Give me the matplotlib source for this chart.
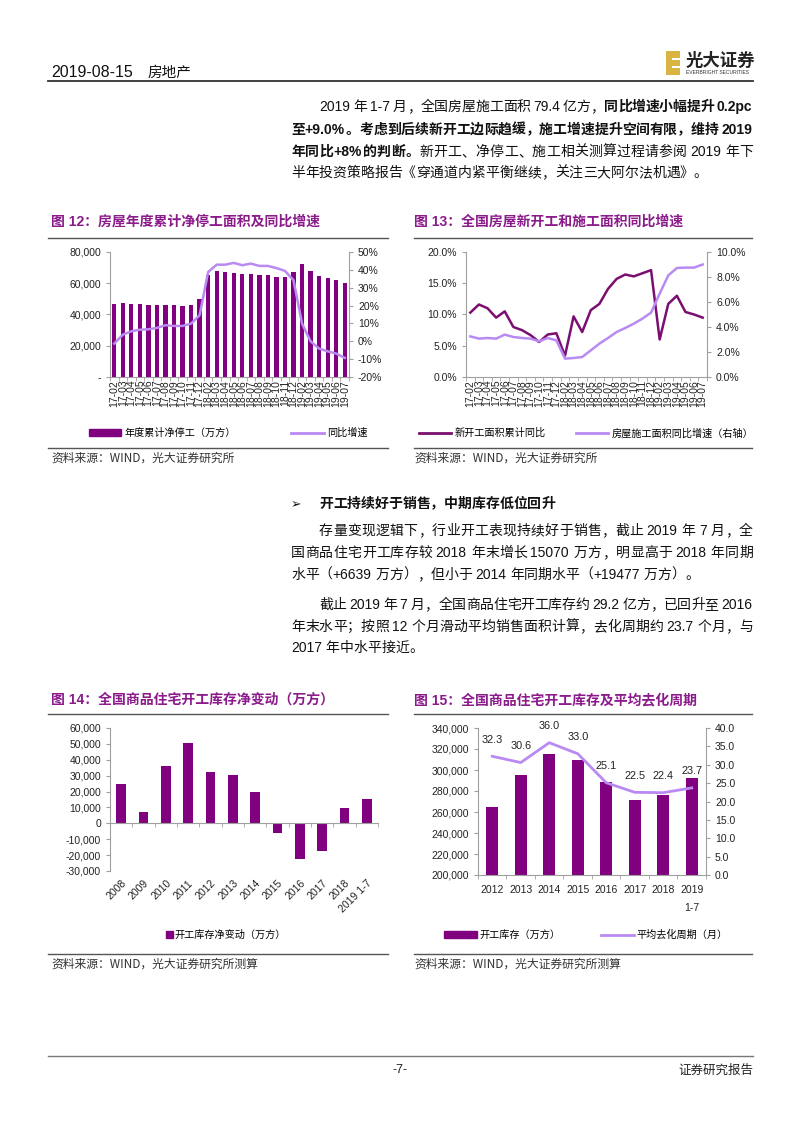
import re
import numpy as np
import matplotlib
matplotlib.use('Agg')
import matplotlib.pyplot as plt
from matplotlib.lines import Line2D
from matplotlib.patches import Patch, Rectangle
from matplotlib.font_manager import FontProperties

plt.rcParams['font.family'] = ['Liberation Sans', 'Noto Sans CJK SC', 'DejaVu Sans']
plt.rcParams['axes.unicode_minus'] = False

# ---------------- data ----------------
months = ['17-02', '17-03', '17-04', '17-05', '17-06', '17-07', '17-08', '17-09', '17-10', '17-11', '17-12',
          '18-02', '18-03', '18-04', '18-05', '18-06', '18-07', '18-08', '18-09', '18-10', '18-11', '18-12',
          '19-02', '19-03', '19-04', '19-05', '19-06', '19-07']
# fig 12: annual cumulative net stopped area (10k m2) and yoy (%)
net_stop = [46900, 47300, 47000, 46500, 46300, 45900, 46100, 45900, 45600, 46300, 49700,
            65500, 67800, 67200, 66800, 65900, 65900, 65300, 65300, 64200, 64000, 67000,
            72500, 67800, 64600, 63100, 62100, 60200]
net_stop_yoy = [-1.3, 3.7, 5.6, 6.5, 6.7, 7.5, 9.0, 8.6, 8.6, 9.9, 14.6,
                38.8, 42.9, 42.9, 43.9, 42.6, 43.5, 42.2, 42.2, 41.0, 39.4, 34.2,
                9.9, 0.0, -4.1, -5.6, -6.9, -9.3]
# fig 13: new starts cumulative yoy (%), under construction yoy (%, right axis)
new_start_yoy = [10.3, 11.6, 11.0, 9.5, 10.5, 8.0, 7.5, 6.7, 5.6, 6.8, 7.0,
                 3.4, 9.7, 7.2, 10.7, 11.7, 14.1, 15.7, 16.4, 16.1, 16.6, 17.1,
                 6.0, 11.7, 13.0, 10.4, 10.0, 9.5]
constr_yoy = [3.25, 3.07, 3.12, 3.07, 3.39, 3.20, 3.12, 3.07, 2.85, 3.12, 2.93,
              1.47, 1.52, 1.60, 2.13, 2.67, 3.12, 3.60, 3.92, 4.27, 4.67, 5.15,
              6.67, 8.13, 8.72, 8.75, 8.75, 9.00]
# fig 14: net change of started-unsold inventory (10k m2)
years14 = ['2008', '2009', '2010', '2011', '2012', '2013', '2014', '2015', '2016', '2017', '2018', '2019 1-7']
inv_change = [24500, 7000, 36000, 50700, 32400, 30300, 19600, -6100, -22300, -17200, 9900, 15070]
# fig 15: started inventory (10k m2) and average clearing period (months)
years15 = ['2012', '2013', '2014', '2015', '2016', '2017', '2018', '2019\n1-7']
inventory = [265200, 295500, 315500, 309700, 288100, 271000, 276400, 292000]
clear_period = [32.3, 30.6, 36.0, 33.0, 25.1, 22.5, 22.4, 23.7]

PURPLE = '#800080'
LAVENDER = '#B98AF2'
DARKLINE = '#7A0F70'
TITLE = '#8B1A8B'
AXC = '#A0A0A0'
TXT = '#222222'

W, H, DPI = 802, 1133, 100
fig = plt.figure(figsize=(W / DPI, H / DPI), dpi=DPI)
fig.patch.set_facecolor('white')


def fx(x):
    return x / W


def fy(y):
    return 1 - y / H


def axes_px(l, t, r, b):
    return fig.add_axes([fx(l), fy(b), (r - l) / W, (b - t) / H])


def hline(x0, x1, y, color='#555555', lw=1.0):
    fig.add_artist(Line2D([fx(x0), fx(x1)], [fy(y), fy(y)], transform=fig.transFigure, color=color, lw=lw))


#__________________________________________________________
TOK = re.compile(r'[A-Za-z0-9.+%\-]+| |.')


def text_line(x0, y, runs, x1=None, size=10, color='#111111'):
    # place tokens one by one so the line can be justified to x1
    r = fig.canvas.get_renderer()
    em = size * DPI / 72.
    arts, widths = [], []
    for s, bold in runs:
        for tk in TOK.findall(s):
            if tk == ' ':
                arts.append(None)
                widths.append(em * 0.2)
                continue
            cjk = ord(tk[0]) > 0x2000
            t = fig.text(0, fy(y), tk, fontsize=size, color=color,
                         family=['Noto Sans CJK SC'] if cjk else ['Liberation Sans'],
                         fontweight='bold' if bold else 'normal', va='baseline')
            if cjk:
                w = em
            else:
                w = t.get_window_extent(renderer=r).width + 1
            arts.append(t)
            widths.append(w)
    gap = 0
    if x1 is not None and len(widths) > 1:
        gap = (x1 - x0 - sum(widths)) / (len(widths) - 1)
    x = x0
    for a, w in zip(arts, widths):
        if a is not None:
            a.set_x(fx(x))
        x += w + gap


def style_ax(ax, size=7.5):
    for s in ax.spines.values():
        s.set_color(AXC)
        s.set_linewidth(0.8)
    ax.spines['top'].set_visible(False)
    ax.tick_params(colors=AXC, labelcolor=TXT, labelsize=size, width=0.8, length=3)


CJK = FontProperties(family=['Noto Sans CJK SC', 'DejaVu Sans'], size=7.3)
CJK_T = FontProperties(family=['Liberation Sans', 'Noto Sans CJK SC'], size=10, weight='bold')
SRC = FontProperties(family=['Noto Sans CJK SC', 'DejaVu Sans'], size=8.5)

# ---------------- header ----------------
fig.text(fx(51), fy(77), '2019-08-15', fontsize=11.5, color='#111111', va='baseline')
fig.text(fx(147), fy(77), '房地产', fontsize=10.5, color='#111111', va='baseline')
hline(48, 753, 81, color='#333333', lw=1.3)
fig.add_artist(Rectangle((fx(666), fy(75)), 14 / W, 24 / H, transform=fig.transFigure,
                         color='#D9B440', lw=0))
for yy in (58, 66):
    fig.add_artist(Rectangle((fx(672), fy(yy + 2)), 8 / W, 2.2 / H, transform=fig.transFigure,
                             color='white', lw=0))
fig.text(fx(686), fy(66), '光大证券', fontsize=12.5, fontweight='bold', color='#222222', va='baseline',
         family=['Noto Sans CJK SC'])
fig.text(fx(686), fy(74), 'EVERBRIGHT SECURITIES', fontsize=3.6, color='#333333', va='baseline')

# ---------------- paragraph 1 ----------------
L, IND, R = 291, 319, 753
text_line(IND, 111, [('2019 年 1-7 月，全国房屋施工面积 79.4 亿方，', False), ('同比增速小幅提升 0.2pc', True)], R)
text_line(L, 134, [('至+9.0%。考虑到后续新开工边际趋缓，施工增速提升空间有限，维持 2019', True)], R)
text_line(L, 156, [('年同比+8%的判断。', True), ('新开工、净停工、施工相关测算过程请参阅 2019 年下', False)], R)
text_line(L, 177, [('半年投资策略报告《穿通道内紧平衡继续，关注三大阿尔法机遇》。', False)])

# ---------------- titles row 1 ----------------
fig.text(fx(51), fy(222), '图 12：房屋年度累计净停工面积及同比增速', fontproperties=CJK_T, color=TITLE, va='center')
fig.text(fx(414), fy(222), '图 13：全国房屋新开工和施工面积同比增速', fontproperties=CJK_T, color=TITLE, va='center')
hline(48, 388, 238)
hline(414, 752, 238)

x = np.arange(len(months))

# ---------------- fig 12 ----------------
ax = axes_px(110, 252, 349, 377)
ax.bar(x, net_stop, width=0.5, color=PURPLE, zorder=2)
ax.set_xlim(-0.5, len(x) - 0.5)
ax.set_ylim(0, 80000)
ax.set_yticks(range(0, 80001, 20000))
ax.set_yticklabels(['-'] + ['{:,}'.format(v) for v in range(20000, 80001, 20000)])
ax.set_xticks(x)
ax.set_xticklabels(months, rotation=90, fontsize=7.8, color='#111111')
ax.set_xticks(np.arange(-0.5, len(x)), minor=True)
style_ax(ax)
ax.tick_params(axis='x', length=0, pad=2)
ax.tick_params(axis='x', which='minor', length=3, colors=AXC)
ax.spines['right'].set_visible(False)
ax2 = ax.twinx()
ax2.plot(x, net_stop_yoy, color=LAVENDER, lw=1.8)
ax2.set_ylim(-20, 50)
ax2.set_yticks(range(-20, 51, 10))
ax2.set_yticklabels(['{}%'.format(v) for v in range(-20, 51, 10)])
style_ax(ax2)
ax2.spines['left'].set_visible(False)
ax2.spines['bottom'].set_visible(False)
fig.legend([Patch(color=PURPLE), Line2D([], [], color=LAVENDER, lw=2)],
           ['年度累计净停工（万方）', '同比增速'], loc='center', bbox_to_anchor=(fx(228), fy(433)),
           ncol=2, frameon=False, prop=CJK, handlelength=3.2, handleheight=0.6, handletextpad=0.3,
           columnspacing=5.5)
hline(48, 388, 448)
fig.text(fx(51), fy(458), '资料来源：WIND，光大证券研究所', fontproperties=SRC, color='#333333', va='center')

# ---------------- fig 13 ----------------
ax = axes_px(466, 252, 707, 377)
ax.plot(x, new_start_yoy, color=DARKLINE, lw=1.8)
ax.set_xlim(-0.5, len(x) - 0.5)
ax.set_ylim(0, 20)
ax.set_yticks(range(0, 21, 5))
ax.set_yticklabels(['{:.1f}%'.format(v) for v in range(0, 21, 5)])
ax.set_xticks(x)
ax.set_xticklabels(months, rotation=90, fontsize=7.8, color='#111111')
ax.set_xticks(np.arange(-0.5, len(x)), minor=True)
style_ax(ax)
ax.tick_params(axis='x', length=0, pad=2)
ax.tick_params(axis='x', which='minor', length=3, colors=AXC)
ax.spines['right'].set_visible(False)
ax2 = ax.twinx()
ax2.plot(x, constr_yoy, color=LAVENDER, lw=1.8)
ax2.set_ylim(0, 10)
ax2.set_yticks(range(0, 11, 2))
ax2.set_yticklabels(['{:.1f}%'.format(v) for v in range(0, 11, 2)])
style_ax(ax2)
ax2.spines['left'].set_visible(False)
ax2.spines['bottom'].set_visible(False)
fig.legend([Line2D([], [], color=DARKLINE, lw=2), Line2D([], [], color=LAVENDER, lw=2)],
           ['新开工面积累计同比', '房屋施工面积同比增速（右轴）'], loc='center', bbox_to_anchor=(fx(586), fy(433)),
           ncol=2, frameon=False, prop=CJK, handlelength=3.2, handletextpad=0.3, columnspacing=3.0)
hline(414, 752, 448)
fig.text(fx(414), fy(458), '资料来源：WIND，光大证券研究所', fontproperties=SRC, color='#333333', va='center')

# ---------------- section 2 ----------------
fig.text(fx(291), fy(508), '➢', fontsize=9, family=['DejaVu Sans'], va='baseline', color='#111111')
text_line(IND, 508, [('开工持续好于销售，中期库存低位回升', True)])
text_line(IND, 535, [('存量变现逻辑下，行业开工表现持续好于销售，截止 2019 年 7 月，全', False)], R)
text_line(L, 557, [('国商品住宅开工库存较 2018 年末增长 15070 万方，明显高于 2018 年同期', False)], R)
text_line(L, 579, [('水平（+6639 万方），但小于 2014 年同期水平（+19477 万方）。', False)])
text_line(IND, 609, [('截止 2019 年 7 月，全国商品住宅开工库存约 29.2 亿方，已回升至 2016', False)], R)
text_line(L, 631, [('年末水平；按照 12 个月滑动平均销售面积计算，去化周期约 23.7 个月，与', False)], R)
text_line(L, 652, [('2017 年中水平接近。', False)])

# ---------------- titles row 2 ----------------
fig.text(fx(51), fy(700), '图 14：全国商品住宅开工库存净变动（万方）', fontproperties=CJK_T, color=TITLE, va='center')
fig.text(fx(414), fy(700), '图 15：全国商品住宅开工库存及平均去化周期', fontproperties=CJK_T, color=TITLE, va='center')
hline(48, 388, 714)
hline(414, 752, 714)

# ---------------- fig 14 ----------------
x14 = np.arange(len(years14))
ax = axes_px(110, 728, 378, 871)
ax.bar(x14, inv_change, width=0.43, color=PURPLE, zorder=2)
ax.set_xlim(-0.5, len(x14) - 0.5)
ax.set_ylim(-30000, 60000)
ax.set_yticks(range(-30000, 60001, 10000))
ax.set_yticklabels(['{:,}'.format(v) for v in range(-30000, 60001, 10000)])
style_ax(ax, 7.5)
ax.spines['right'].set_visible(False)
ax.spines['bottom'].set_position(('data', 0))
ax.set_xticks(x14)
ax.set_xticklabels([])
ax.set_xticks(np.arange(-0.5, len(x14)), minor=True)
ax.tick_params(axis='x', length=0)
ax.tick_params(axis='x', which='minor', length=3, colors=AXC)
sec = ax.secondary_xaxis('bottom')
sec.set_xticks(x14)
sec.set_xticklabels(years14, rotation=45, ha='right', rotation_mode='anchor', fontsize=7.5, color=TXT)
sec.tick_params(length=0, pad=5)
sec.spines['bottom'].set_visible(False)
fig.legend([Patch(color=PURPLE)], ['开工库存净变动（万方）'], loc='center', bbox_to_anchor=(fx(226), fy(935)),
           frameon=False, prop=CJK, handlelength=0.7, handleheight=0.7, handletextpad=0.2)
hline(48, 388, 954)
fig.text(fx(51), fy(964), '资料来源：WIND，光大证券研究所测算', fontproperties=SRC, color='#333333', va='center')

# ---------------- fig 15 ----------------
x15 = np.arange(len(years15))
ax = axes_px(478, 728, 706, 875)
ax.bar(x15, inventory, width=0.43, color=PURPLE, zorder=2)
ax.set_xlim(-0.5, len(x15) - 0.5)
ax.set_ylim(200000, 340000)
ax.set_yticks(range(200000, 340001, 20000))
ax.set_yticklabels(['{:,}'.format(v) for v in range(200000, 340001, 20000)])
ax.set_xticks(x15)
ax.set_xticklabels(years15, fontsize=7.8, linespacing=2.0, va='top')
ax.set_xticks(np.arange(-0.5, len(x15)), minor=True)
style_ax(ax, 7.5)
ax.tick_params(axis='x', length=0, pad=7)
ax.tick_params(axis='x', which='minor', length=3, colors=AXC)
ax.spines['right'].set_visible(False)
ax2 = ax.twinx()
ax2.plot(x15, clear_period, color=LAVENDER, lw=2)
for i, v in enumerate(clear_period):
    ax2.annotate('{:.1f}'.format(v), (i, v), xytext=(0, 12), textcoords='offset points',
                 ha='center', va='center', fontsize=7.8, color=TXT)
ax2.set_ylim(0, 40)
ax2.set_yticks(range(0, 41, 5))
ax2.set_yticklabels(['{:.1f}'.format(v) for v in range(0, 41, 5)])
style_ax(ax2, 7.5)
ax2.spines['left'].set_visible(False)
ax2.spines['bottom'].set_visible(False)
fig.legend([Patch(color=PURPLE), Line2D([], [], color=LAVENDER, lw=2)],
           ['开工库存（万方）', '平均去化周期（月）'], loc='center', bbox_to_anchor=(fx(586), fy(935)),
           ncol=2, frameon=False, prop=CJK, handlelength=3.2, handleheight=0.6, handletextpad=0.3,
           columnspacing=4.0)
hline(414, 752, 954)
fig.text(fx(414), fy(964), '资料来源：WIND，光大证券研究所测算', fontproperties=SRC, color='#333333', va='center')

# ---------------- footer ----------------
hline(48, 753, 1056, color='#777777', lw=1.0)
fig.text(fx(400), fy(1070), '-7-', fontsize=9, ha='center', va='center', color='#222222')
fig.text(fx(753), fy(1070), '证券研究报告', fontsize=9, ha='right', va='center', color='#222222',
         family=['Noto Sans CJK SC'])

fig.savefig('out.png', dpi=DPI)
